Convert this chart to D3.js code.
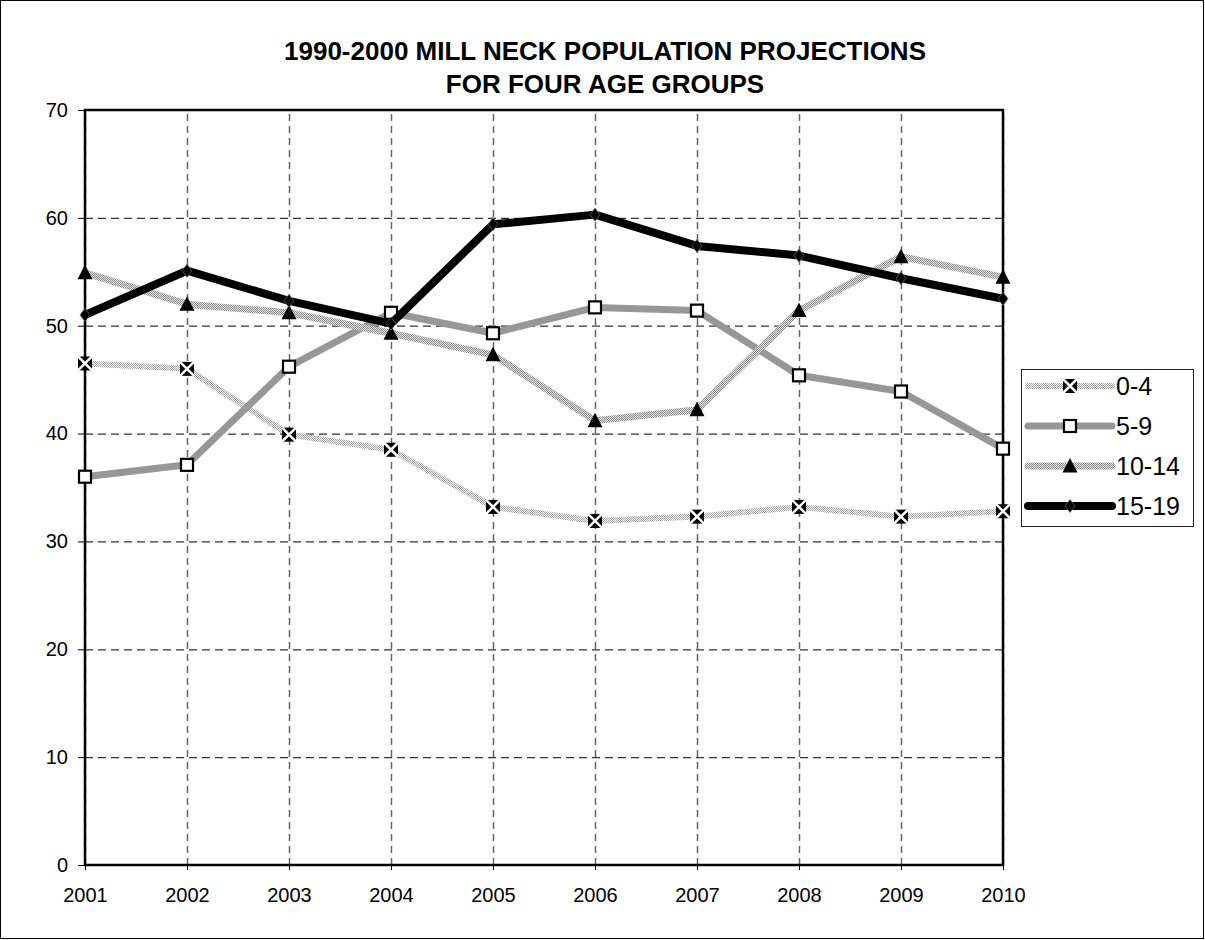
<!DOCTYPE html>
<html>
<head>
<meta charset="utf-8">
<script src="https://cdnjs.cloudflare.com/ajax/libs/d3/7.8.5/d3.min.js"></script>
<style>
  body { margin: 0; background: #fff; }
  text { font-family: "Liberation Sans", Arial, sans-serif; }
</style>
</head>
<body>
<div id="chart"></div>
<script>
// values
var years = ["2001", "2002", "2003", "2004", "2005", "2006", "2007", "2008", "2009", "2010"];
var yTicks = [0, 10, 20, 30, 40, 50, 60, 70];
var age0to4   = [46.5, 46.0, 39.9, 38.5, 33.2, 31.9, 32.3, 33.2, 32.3, 32.8];
var age5to9   = [36.0, 37.1, 46.2, 51.2, 49.3, 51.7, 51.4, 45.4, 43.9, 38.6];
var age10to14 = [54.9, 52.0, 51.2, 49.3, 47.3, 41.2, 42.2, 51.4, 56.4, 54.5];
var age15to19 = [51.0, 55.1, 52.3, 50.2, 59.4, 60.3, 57.4, 56.5, 54.4, 52.5];
var seriesNames = ["0-4", "5-9", "10-14", "15-19"];
var titleLines = ["1990-2000 MILL NECK POPULATION PROJECTIONS", "FOR FOUR AGE GROUPS"];

var width = 1205, height = 940;
var plot = {left: 85, right: 1003, top: 110, bottom: 865};

var svg = d3.select("#chart").append("svg")
    .attr("width", width)
    .attr("height", height);

svg.append("rect")
    .attr("x", 0.5).attr("y", 0.5)
    .attr("width", width - 2).attr("height", height - 2)
    .attr("fill", "#fff").attr("stroke", "#000").attr("stroke-width", 1);

// dotted fills used by two of the lines
var defs = svg.append("defs");
function dotPattern(id, dark, light) {
  var p = defs.append("pattern")
      .attr("id", id)
      .attr("patternUnits", "userSpaceOnUse")
      .attr("width", 2).attr("height", 2);
  p.append("rect").attr("width", 2).attr("height", 2).attr("fill", light);
  p.append("rect").attr("width", 1).attr("height", 1).attr("fill", dark);
  p.append("rect").attr("x", 1).attr("y", 1).attr("width", 1).attr("height", 1).attr("fill", dark);
}
dotPattern("dots1", "#a0a0a0", "#ffffff");
dotPattern("dots2", "#8a8a8a", "#e6e6e6");

var x = d3.scalePoint().domain(years).range([plot.left, plot.right]);
var y = d3.scaleLinear().domain([0, 70]).range([plot.bottom, plot.top]);

// title
svg.append("g").selectAll("text")
    .data(titleLines)
  .enter().append("text")
    .attr("x", 605)
    .attr("y", function(d, i) { return 60 + i * 33; })
    .attr("text-anchor", "middle")
    .attr("font-size", 26)
    .attr("font-weight", "bold")
    .text(function(d) { return d; });

// grid
svg.append("g")
    .attr("transform", "translate(0," + plot.bottom + ")")
    .call(d3.axisBottom(x).tickSize(-(plot.bottom - plot.top)).tickFormat(""))
    .call(function(g) {
      g.select(".domain").remove();
      g.selectAll(".tick line")
        .attr("stroke", "#666").attr("stroke-width", 1.5).attr("stroke-dasharray", "7,5");
    });
svg.append("g")
    .attr("transform", "translate(" + plot.left + ",0)")
    .call(d3.axisLeft(y).tickValues(yTicks.slice(1, -1)).tickSize(-(plot.right - plot.left)).tickFormat(""))
    .call(function(g) {
      g.select(".domain").remove();
      g.selectAll(".tick line")
        .attr("stroke", "#333").attr("stroke-width", 1.2).attr("stroke-dasharray", "8,5");
    });

// axes
svg.append("g")
    .attr("transform", "translate(" + plot.left + ",0)")
    .call(d3.axisLeft(y).tickValues(yTicks).tickSize(7).tickPadding(10))
    .call(function(g) {
      g.select(".domain").remove();
      g.selectAll(".tick line").attr("stroke", "#000");
      g.selectAll("text").attr("font-size", 20).attr("fill", "#000")
        .attr("font-family", "'Liberation Sans', Arial, sans-serif");
    });
svg.append("g")
    .attr("transform", "translate(0," + plot.bottom + ")")
    .call(d3.axisBottom(x).tickSize(5).tickPadding(18))
    .call(function(g) {
      g.select(".domain").remove();
      g.selectAll(".tick line").attr("stroke", "#000");
      g.selectAll("text").attr("font-size", 20).attr("fill", "#000")
        .attr("font-family", "'Liberation Sans', Arial, sans-serif");
    });

svg.append("rect")
    .attr("x", plot.left).attr("y", plot.top)
    .attr("width", plot.right - plot.left).attr("height", plot.bottom - plot.top)
    .attr("fill", "none").attr("stroke", "#000").attr("stroke-width", 2.5);

// series styles
var styles = [
  {values: age0to4,   stroke: "url(#dots1)", width: 6, marker: "xbox"},
  {values: age5to9,   stroke: "#979797",     width: 7, marker: "square"},
  {values: age10to14, stroke: "url(#dots2)", width: 7, marker: "triangle"},
  {values: age15to19, stroke: "#000",        width: 8, marker: "diamond"}
];

function drawMarker(g, type) {
  if (type === "xbox") {
    g.append("rect").attr("x", -7).attr("y", -7).attr("width", 14).attr("height", 14).attr("fill", "#000");
    g.append("path").attr("d", "M-7,-7L7,7M7,-7L-7,7").attr("stroke", "#fff").attr("stroke-width", 2.5);
  } else if (type === "square") {
    g.append("rect").attr("x", -6).attr("y", -6).attr("width", 12).attr("height", 12)
      .attr("fill", "#fff").attr("stroke", "#000").attr("stroke-width", 2.2);
  } else if (type === "triangle") {
    g.append("path").attr("d", "M0,-8L7.5,6.5L-7.5,6.5Z").attr("fill", "#000");
  } else {
    g.append("path").attr("d", "M0,-6.5L5,0L0,6.5L-5,0Z")
      .attr("fill", "#000").attr("stroke", "#666").attr("stroke-width", 0.8);
  }
}

var line = d3.line()
    .x(function(d, i) { return x(years[i]); })
    .y(function(d) { return y(d); });

styles.forEach(function(s) {
  svg.append("path")
      .datum(s.values)
      .attr("d", line)
      .attr("fill", "none")
      .attr("stroke", s.stroke)
      .attr("stroke-width", s.width)
      .attr("stroke-linejoin", "round")
      .attr("stroke-linecap", "round");
  s.values.forEach(function(v, i) {
    var g = svg.append("g").attr("transform", "translate(" + x(years[i]) + "," + y(v) + ")");
    drawMarker(g, s.marker);
  });
});

// legend
var legend = svg.append("g");
legend.append("rect")
    .attr("x", 1021.5).attr("y", 369.5)
    .attr("width", 172).attr("height", 157)
    .attr("fill", "#fff").attr("stroke", "#222").attr("stroke-width", 1);
var item = legend.selectAll("g.item")
    .data(styles)
  .enter().append("g")
    .attr("class", "item")
    .attr("transform", function(d, i) { return "translate(0," + (386 + i * 40) + ")"; });
item.append("line")
    .attr("x1", 1028).attr("x2", 1112)
    .attr("stroke", function(d) { return d.stroke; })
    .attr("stroke-width", function(d) { return d.width; })
    .attr("stroke-linecap", "round");
item.each(function(d) {
  drawMarker(d3.select(this).append("g").attr("transform", "translate(1070,0)"), d.marker);
});
item.append("text")
    .attr("x", 1116)
    .attr("dy", "0.36em")
    .attr("font-size", 25)
    .text(function(d, i) { return seriesNames[i]; });
</script>
</body>
</html>
